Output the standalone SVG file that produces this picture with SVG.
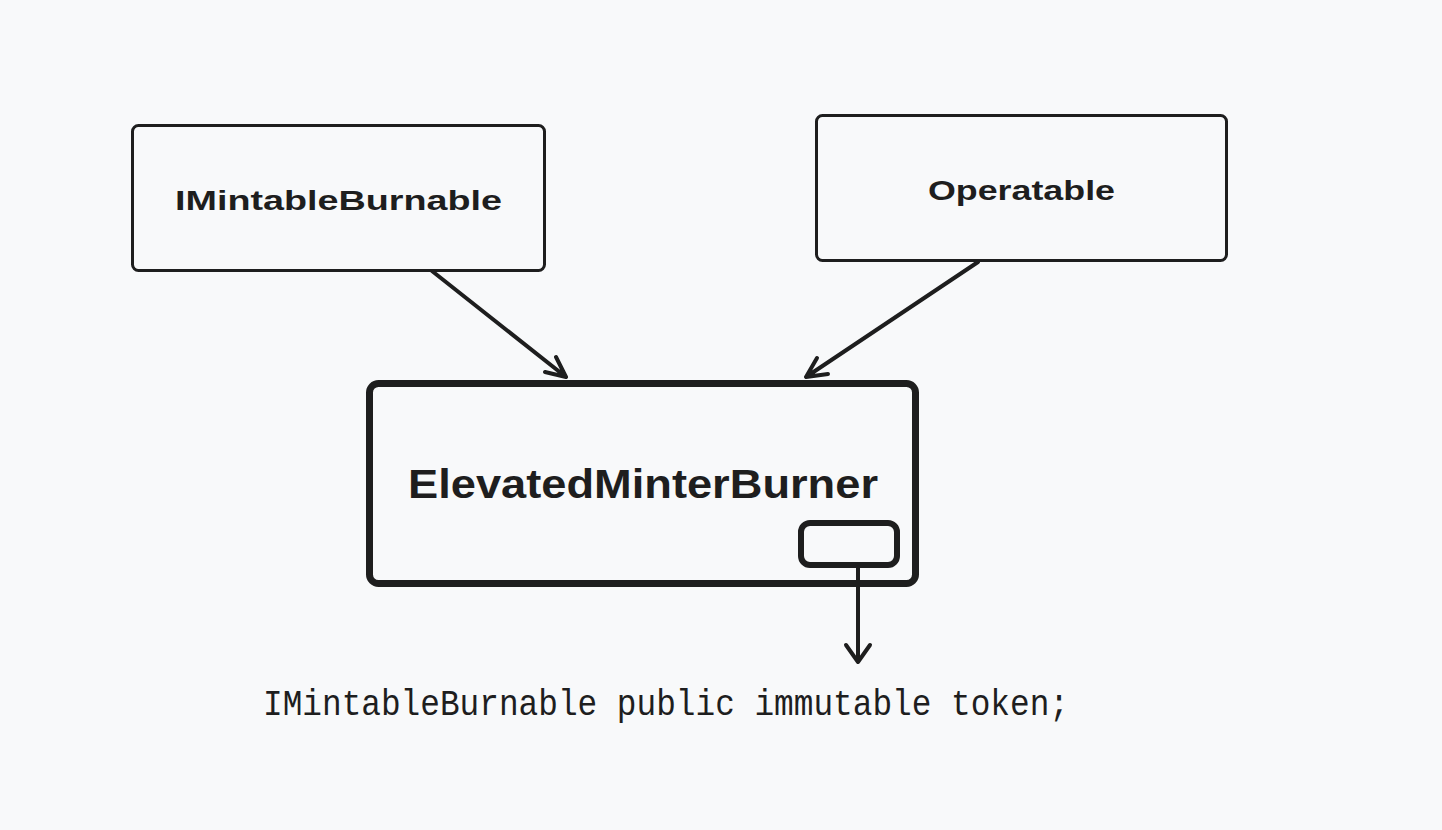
<svg xmlns="http://www.w3.org/2000/svg" width="1442" height="830" viewBox="0 0 1442 830">
<style>
.box{fill:none;stroke:#1e1e1e;stroke-linejoin:round}
.lbl{font-family:"Liberation Sans","Noto Sans",sans-serif;font-weight:bold;fill:#1e1e1e;text-anchor:middle}
.conn{fill:none;stroke:#1e1e1e;stroke-width:4;stroke-linecap:round;stroke-linejoin:round}
.code{font-family:"Liberation Mono","DejaVu Sans Mono",monospace;fill:#1e1e1e}
</style>
<rect width="1442" height="830" fill="#f8f9fa"/>
<g id="node-imintableburnable">
<rect class="box" x="132.5" y="125.5" width="412" height="145" rx="6" stroke-width="3"/>
<text class="lbl" x="338.5" y="210" font-size="28" textLength="327" lengthAdjust="spacingAndGlyphs">IMintableBurnable</text>
</g>
<g id="node-operatable">
<rect class="box" x="816.5" y="115.5" width="410" height="145" rx="6" stroke-width="3"/>
<text class="lbl" x="1021.5" y="200" font-size="28" textLength="187" lengthAdjust="spacingAndGlyphs">Operatable</text>
</g>
<g id="node-elevatedminterburner">
<rect class="box" x="369.5" y="383.5" width="546" height="200" rx="9" stroke-width="7"/>
<text class="lbl" x="643" y="498" font-size="40" textLength="470" lengthAdjust="spacingAndGlyphs">ElevatedMinterBurner</text>
</g>
<g id="node-token-slot">
<rect class="box" x="801" y="523" width="96" height="42" rx="9" stroke-width="6"/>
</g>
<g id="node-token-text">
<text class="code" x="263" y="715" font-size="36" textLength="806" lengthAdjust="spacingAndGlyphs">IMintableBurnable public immutable token;</text>
</g>
<g id="connectors">
<path class="conn" d="M432 271 L566 377 M556 357 L566 377 L545 372"/>
<path class="conn" d="M978 262 L806 377 M817 358 L806 377 L828 374"/>
<path class="conn" d="M858 567 L858 662 M846 645 L858 662 L870 645"/>
</g>
</svg>
